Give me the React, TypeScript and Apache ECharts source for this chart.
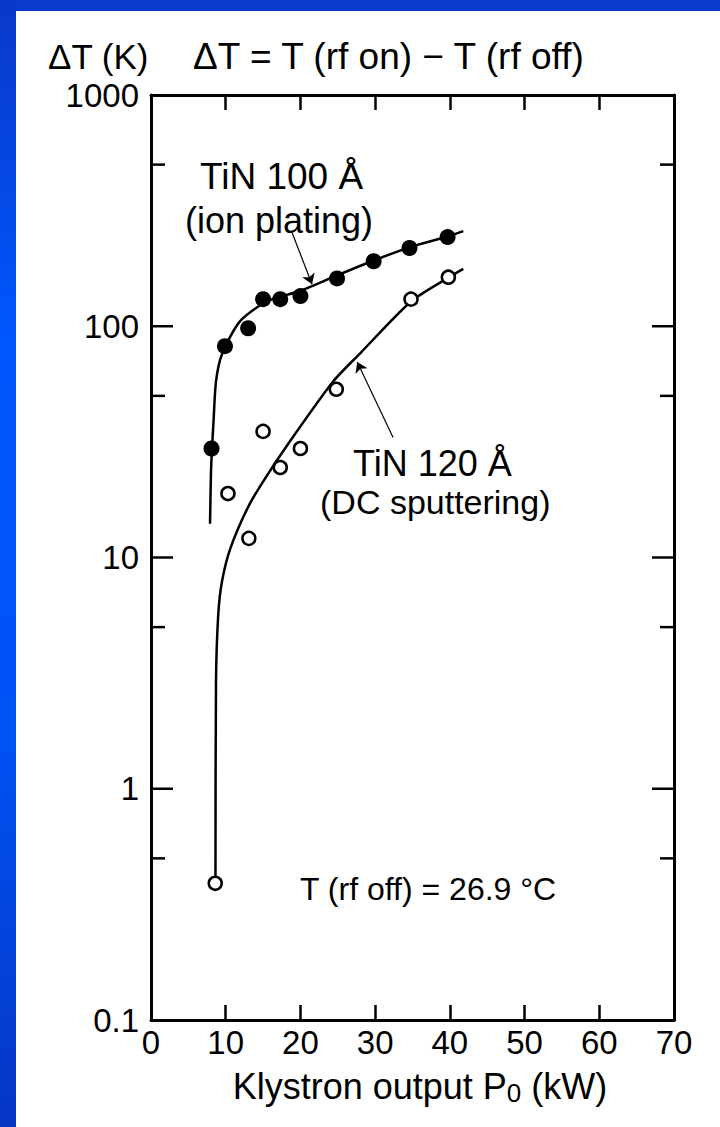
import React, { useEffect, useRef } from "react";
import * as echarts from "echarts";

// Measured points: klystron output (kW) vs. temperature rise (K)
const ionPlatingPower = [8.1, 9.9, 13.0, 15.0, 17.3, 20.0, 24.9, 29.8, 34.6, 39.7];
const ionPlatingDeltaT = [29.6, 82, 98, 131, 131, 135, 161, 191, 218, 243];
const sputterPower = [8.6, 10.3, 13.1, 15.0, 17.3, 20.0, 24.8, 34.8, 39.8];
const sputterDeltaT = [0.39, 18.9, 12.1, 35.1, 24.5, 29.6, 53.4, 131, 163];

// Hand-drawn guide curves through each data set
const ionFitPower = [7.9, 8.03, 8.17, 8.37, 8.7, 9.5, 11.9, 15.5, 19.9, 24.9, 29.9, 34.7, 39.8, 41.8];
const ionFitDeltaT = [14.0, 23.6, 29.6, 38.8, 57.8, 75.7, 105, 128, 142, 166, 193, 220, 245, 258];
const sputterFitPower = [8.63, 8.7, 9.0, 9.5, 10.6, 12.9, 15.0, 18.6, 24.4, 28.0, 34.8, 39.9, 41.8];
const sputterFitDeltaT = [0.39, 2.9, 5.66, 7.87, 10.9, 16.3, 21.3, 31.8, 57.8, 76.4, 128, 163, 177];

// Leader arrows from the labels to the curves
const ionArrowFrom = [18.9, 253];
const ionArrowTo = [21.55, 152];
const sputterArrowFrom = [32.4, 33];
const sputterArrowTo = [27.6, 70];

const yTickLabels = ["0.1", "1", "10", "100", "1000"];
const majorTickValues = [1, 10, 100];
const minorTickValues = [0.5, 5, 50, 500];

const zip = (xs: number[], ys: number[]) => xs.map((x, i) => [x, ys[i]]);

const SANS = "'Liberation Sans', Arial, sans-serif";

export default function App() {
  const ref = useRef<HTMLDivElement>(null);

  useEffect(() => {
    document.body.style.margin = "0";
    if (!ref.current) return;
    const chart = echarts.init(ref.current, undefined, { renderer: "svg" });

    const frame = { color: "#000", width: 3 };
    const tickStyle = { color: "#000", width: 2.5 };

    const yLabelFormatter = (v: number) => {
      const idx = Math.round(Math.log10(v)) + 1;
      return yTickLabels[idx] ?? String(v);
    };

    // One item per inward tick: [value, tick length, side (0 = left, 1 = right)]
    const yTickItems: number[][] = [];
    for (const side of [0, 1]) {
      majorTickValues.forEach((v) => yTickItems.push([v, 22, side]));
      minorTickValues.forEach((v) => yTickItems.push([v, 14, side]));
    }

    chart.setOption({
      animation: false,
      backgroundColor: "#fff",
      grid: { left: 151, top: 95, width: 523, height: 925, containLabel: false },
      xAxis: [
        {
          type: "value",
          min: 0,
          max: 70,
          interval: 10,
          position: "bottom",
          axisLine: { show: true, onZero: false, lineStyle: frame },
          axisTick: { show: true, inside: true, length: 15, lineStyle: tickStyle },
          axisLabel: { color: "#000", fontSize: 33, fontFamily: SANS, margin: 6 },
          splitLine: { show: false },
        },
        {
          type: "value",
          min: 0,
          max: 70,
          interval: 10,
          position: "top",
          axisLine: { show: true, onZero: false, lineStyle: frame },
          axisTick: { show: true, inside: true, length: 15, lineStyle: tickStyle },
          axisLabel: { show: false },
          splitLine: { show: false },
        },
      ],
      yAxis: [
        {
          type: "log",
          logBase: 10,
          min: 0.1,
          max: 1000,
          position: "left",
          axisLine: { show: true, onZero: false, lineStyle: frame },
          axisTick: { show: false },
          axisLabel: { color: "#000", fontSize: 33, fontFamily: SANS, margin: 12, formatter: yLabelFormatter },
          splitLine: { show: false },
        },
        {
          type: "log",
          logBase: 10,
          min: 0.1,
          max: 1000,
          position: "right",
          axisLine: { show: true, onZero: false, lineStyle: frame },
          axisTick: { show: false },
          axisLabel: { show: false },
          splitLine: { show: false },
        },
      ],
      series: [
        {
          name: "frame ticks",
          type: "custom",
          silent: true,
          clip: false,
          z: 20,
          data: yTickItems.map(([v, len, side]) => [0, v, len, side]),
          renderItem: (params: any, api: any) => {
            const cs = params.coordSys;
            const y = api.coord([0, api.value(1)])[1];
            const len = api.value(2);
            const right = api.value(3) === 1;
            const x0 = right ? cs.x + cs.width - len : cs.x;
            return {
              type: "line",
              shape: { x1: x0, y1: y, x2: x0 + len, y2: y },
              style: { stroke: "#000", lineWidth: 2.5 },
            };
          },
        },
        {
          name: "TiN 100 Å fit",
          type: "line",
          data: zip(ionFitPower, ionFitDeltaT),
          smooth: 0.25,
          showSymbol: false,
          lineStyle: { color: "#000", width: 2.5 },
          markLine: {
            silent: true,
            symbol: ["none", "arrow"],
            symbolSize: 10,
            lineStyle: { color: "#000", width: 1.2, type: "solid" },
            label: { show: false },
            data: [[{ coord: ionArrowFrom }, { coord: ionArrowTo }]],
          },
        },
        {
          name: "TiN 120 Å fit",
          type: "line",
          data: zip(sputterFitPower, sputterFitDeltaT),
          smooth: 0.25,
          showSymbol: false,
          lineStyle: { color: "#000", width: 2.5 },
          markLine: {
            silent: true,
            symbol: ["none", "arrow"],
            symbolSize: 10,
            lineStyle: { color: "#000", width: 1.2, type: "solid" },
            label: { show: false },
            data: [[{ coord: sputterArrowFrom }, { coord: sputterArrowTo }]],
          },
        },
        {
          name: "TiN 100 Å (ion plating)",
          type: "scatter",
          data: zip(ionPlatingPower, ionPlatingDeltaT),
          symbol: "circle",
          symbolSize: 16,
          itemStyle: { color: "#000", opacity: 1 },
          z: 5,
        },
        {
          name: "TiN 120 Å (DC sputtering)",
          type: "scatter",
          data: zip(sputterPower, sputterDeltaT),
          symbol: "circle",
          symbolSize: 13,
          itemStyle: { color: "#fff", borderColor: "#000", borderWidth: 2.5, opacity: 1 },
          z: 5,
        },
      ],
      graphic: [
        { type: "rect", shape: { x: 0, y: 0, width: 720, height: 11 }, style: { fill: "#0a3acc" }, z: 100 },
        {
          type: "rect",
          shape: { x: 0, y: 0, width: 16, height: 1127 },
          style: {
            fill: new echarts.graphic.LinearGradient(0, 0, 0, 1, [
              { offset: 0, color: "#0a38c8" },
              { offset: 0.3, color: "#0057ff" },
              { offset: 0.65, color: "#0052f5" },
              { offset: 1, color: "#0636c4" },
            ]),
          },
          z: 100,
        },
        { type: "text", x: 48, y: 56, style: { text: "ΔT (K)", font: `35px ${SANS}`, fill: "#000", textVerticalAlign: "middle" } },
        {
          type: "text",
          x: 193,
          y: 56,
          style: { text: "ΔT = T (rf on) − T (rf off)", font: `37px ${SANS}`, fill: "#000", textVerticalAlign: "middle" },
        },
        { type: "text", x: 200, y: 176, style: { text: "TiN 100 Å", font: `37px ${SANS}`, fill: "#000", textVerticalAlign: "middle" } },
        { type: "text", x: 185, y: 220, style: { text: "(ion plating)", font: `36px ${SANS}`, fill: "#000", textVerticalAlign: "middle" } },
        { type: "text", x: 353, y: 463, style: { text: "TiN 120 Å", font: `36px ${SANS}`, fill: "#000", textVerticalAlign: "middle" } },
        { type: "text", x: 320, y: 502, style: { text: "(DC sputtering)", font: `34px ${SANS}`, fill: "#000", textVerticalAlign: "middle" } },
        { type: "text", x: 300, y: 889, style: { text: "T (rf off) = 26.9 °C", font: `32px ${SANS}`, fill: "#000", textVerticalAlign: "middle" } },
        {
          type: "text",
          x: 420,
          y: 1086,
          style: {
            text: "Klystron output P{sub|0} (kW)",
            font: `36px ${SANS}`,
            fill: "#000",
            textAlign: "center",
            textVerticalAlign: "middle",
            rich: { sub: { fontSize: 26, fontFamily: SANS, verticalAlign: "bottom", padding: [14, 0, 0, 0] } },
          },
        },
      ],
    });

    return () => chart.dispose();
  }, []);

  return <div ref={ref} style={{ width: 720, height: 1127, background: "#fff" }} />;
}
